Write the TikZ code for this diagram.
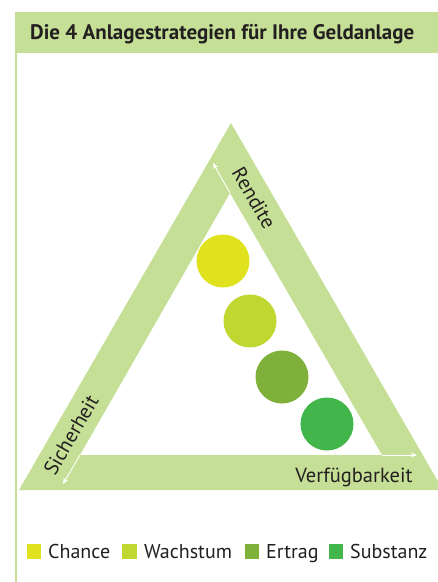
\documentclass[tikz,border=0pt]{standalone}
\usepackage{fontspec}
\setmainfont{PT Sans}
\usetikzlibrary{arrows.meta}
\definecolor{band}{HTML}{C5E096}
\definecolor{cChance}{HTML}{DFE21D}
\definecolor{cWachstum}{HTML}{BFD730}
\definecolor{cErtrag}{HTML}{7FB13A}
\definecolor{cSubstanz}{HTML}{42B54B}
\definecolor{ink}{HTML}{231F20}
\tikzset{
  dot/.style={circle,fill=#1,inner sep=0pt,minimum size=53pt},
  axislabel/.style={text=ink,font=\fontsize{20.5}{20.5}\selectfont,inner sep=0pt},
  axisarrow/.style={white,line width=0.9pt,-{Stealth[length=6pt,width=5pt]}},
  swatch/.style={fill=#1,inner sep=0pt,minimum size=14.5pt},
  legtext/.style={text=ink,font=\fontsize{20}{20}\selectfont,inner sep=0pt,anchor=base west}
}
\begin{document}
\begin{tikzpicture}[x=1pt,y=-1pt]
\useasboundingbox (0,0) rectangle (438,582);
% header band and frame line
\fill[band] (15,12) rectangle (438,53);
\fill[band] (15,53) rectangle (17,582);
\node[anchor=base west,text=ink,inner sep=0pt,font=\bfseries\fontsize{21}{21}\selectfont] (title) at (30,39) {Die 4 Anlagestrategien für Ihre Geldanlage};
% triangle band
\coordinate (oA) at (231,123);
\coordinate (oL) at (19,490);
\coordinate (oR) at (443,490);
\coordinate (iA) at (230,193);
\coordinate (iL) at (80,455);
\coordinate (iR) at (382,455);
\fill[band,even odd rule] (oA) -- (oL) -- (oR) -- cycle (iA) -- (iL) -- (iR) -- cycle;
% axis arrows continuing the inner edges
\coordinate (tipR) at (213,163);
\coordinate (tipS) at (63,484);
\coordinate (tipV) at (417,455);
\draw[axisarrow] (iA) -- (tipR);
\draw[axisarrow] (iL) -- (tipS);
\draw[axisarrow] (iR) -- (tipV);
% axis labels
\node[axislabel,rotate=-60] (rendite) at (254,198) {Rendite};
\node[axislabel,rotate=60] (sicher) at (71,435) {Sicherheit};
\node[axislabel,anchor=base] (verf) at (354,482) {Verfügbarkeit};
% strategy dots
\node[dot=cChance] (chance) at (223,261) {};
\node[dot=cWachstum] (wachstum) at (250,321) {};
\node[dot=cErtrag] (ertrag) at (282,377) {};
\node[dot=cSubstanz] (substanz) at (327,424) {};
% legend
\node[swatch=cChance] (s1) at (34,551.5) {};
\node[legtext] (l1) at (48,558) {Chance};
\node[swatch=cWachstum] (s2) at (129.5,551.5) {};
\node[legtext] (l2) at (144,558) {Wachstum};
\node[swatch=cErtrag] (s3) at (252,551.5) {};
\node[legtext] (l3) at (266,558) {Ertrag};
\node[swatch=cSubstanz] (s4) at (336,551.5) {};
\node[legtext] (l4) at (350,558) {Substanz};
\end{tikzpicture}
\end{document}
